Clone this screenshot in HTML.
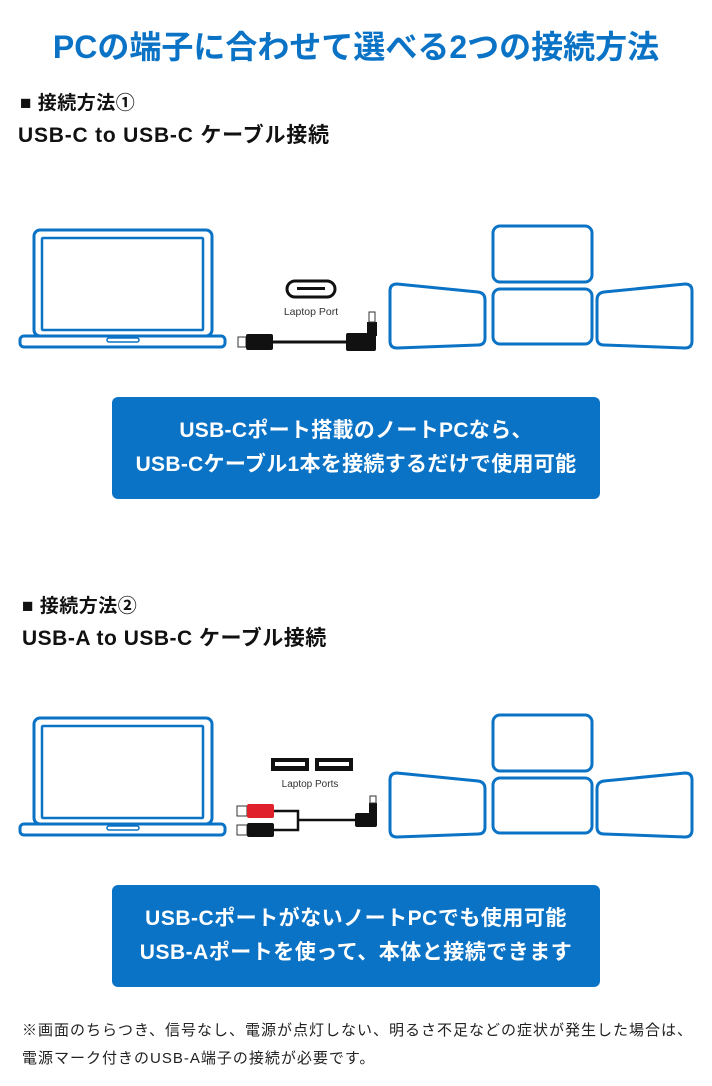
<!DOCTYPE html>
<html><head><meta charset="utf-8"><style>
body{margin:0;width:712px;height:1086px;background:#fff;font-family:"Liberation Sans","Noto Sans CJK JP",sans-serif;overflow:hidden}
svg{position:absolute;left:0;top:0}
.t{position:absolute;white-space:nowrap;font-weight:bold}
</style></head><body>
<svg width="712" height="1086" viewBox="0 0 712 1086">
<defs>
<g id="lap" fill="none" stroke="#0b73c6" stroke-width="3">
<rect x="34" y="0" width="178" height="106" rx="6"/>
<rect x="42" y="8" width="161" height="92" rx="1" stroke-width="2.5"/>
<rect x="20" y="106" width="205" height="11" rx="4"/>
<rect x="107" y="108" width="32" height="4" rx="2" stroke-width="1.5"/>
</g>
<g id="mon" fill="none" stroke="#0b73c6" stroke-width="3">
<rect x="493" y="0" width="99" height="56" rx="7"/>
<rect x="493" y="63" width="99" height="55" rx="7"/>
<path d="M397 58 L478 66 Q485 67 485 74 L485 112 Q485 119 478 119 L397 122 Q390 122 390 115 L390 65 Q390 58 397 58Z"/>
<path d="M685 58 L604 66 Q597 67 597 74 L597 112 Q597 119 604 119 L685 122 Q692 122 692 115 L692 65 Q692 58 685 58Z"/>
</g>
</defs>
<use href="#lap" y="230"/>
<use href="#mon" y="226"/>
<use href="#lap" y="718"/>
<use href="#mon" y="715"/>
<rect x="287" y="281" width="48" height="16" rx="8" fill="#fff" stroke="#111" stroke-width="3"/>
<rect x="297" y="287" width="28" height="3" fill="#111"/>
<text x="311" y="315" font-size="10.5" text-anchor="middle" fill="#333" font-family="Liberation Sans">Laptop Port</text>
<rect x="238" y="337" width="8" height="10" fill="#fff" stroke="#333"/>
<rect x="246" y="334" width="27" height="16" rx="2" fill="#111"/>
<path d="M273 342 H346" stroke="#111" stroke-width="3"/>
<rect x="346" y="333" width="30" height="18" rx="2" fill="#111"/>
<rect x="367" y="322" width="10" height="14" fill="#111"/>
<rect x="369" y="312" width="6" height="10" fill="#fff" stroke="#333"/>
<rect x="271" y="758" width="38" height="13" fill="#111"/><rect x="275" y="762" width="30" height="4" fill="#fff"/>
<rect x="315" y="758" width="38" height="13" fill="#111"/><rect x="319" y="762" width="30" height="4" fill="#fff"/>
<text x="310" y="787" font-size="10" text-anchor="middle" fill="#333" font-family="Liberation Sans">Laptop Ports</text>
<rect x="237" y="806" width="10" height="10" fill="#fff" stroke="#333"/>
<rect x="247" y="804" width="27" height="14" rx="2" fill="#e0202a"/>
<rect x="237" y="825" width="10" height="10" fill="#fff" stroke="#333"/>
<rect x="247" y="823" width="27" height="14" rx="2" fill="#111"/>
<path d="M274 811 H298 V830 H274 M298 820 H360" fill="none" stroke="#111" stroke-width="2.5"/>
<rect x="355" y="813" width="22" height="14" rx="2" fill="#111"/>
<rect x="369" y="803" width="8" height="12" fill="#111"/>
<rect x="370" y="796" width="6" height="7" fill="#fff" stroke="#333"/>
</svg>
<div class="t" style="left:0;width:712px;text-align:center;top:22px;font-size:32px;color:#0b73c6">PCの端子に合わせて選べる2つの接続方法</div>
<div class="t" style="left:20px;top:88px;font-size:19px;color:#111;letter-spacing:0.5px">■ 接続方法①</div>
<div class="t" style="left:18px;top:119px;font-size:21px;color:#111;letter-spacing:0.8px">USB-C to USB-C ケーブル接続</div>
<div style="position:absolute;left:112px;top:397px;width:488px;height:102px;background:#0b73c6;border-radius:6px;color:#fff;font-weight:bold;font-size:21px;letter-spacing:0.3px;text-align:center;line-height:34px;padding-top:17px;box-sizing:border-box;white-space:nowrap">USB-Cポート搭載のノートPCなら、<br>USB-Cケーブル1本を接続するだけで使用可能</div>
<div class="t" style="left:22px;top:591px;font-size:19px;color:#111;letter-spacing:0.5px">■ 接続方法②</div>
<div class="t" style="left:22px;top:622px;font-size:21px;color:#111;letter-spacing:0.5px">USB-A to USB-C ケーブル接続</div>
<div style="position:absolute;left:112px;top:885px;width:488px;height:102px;background:#0b73c6;border-radius:6px;color:#fff;font-weight:bold;font-size:21px;letter-spacing:0.5px;text-align:center;line-height:34px;padding-top:17px;box-sizing:border-box;white-space:nowrap">USB-CポートがないノートPCでも使用可能<br>USB-Aポートを使って、本体と接続できます</div>
<div style="position:absolute;left:22px;top:1017px;font-size:15px;letter-spacing:1px;color:#222;line-height:28px;white-space:nowrap">※画面のちらつき、信号なし、電源が点灯しない、明るさ不足などの症状が発生した場合は、<br>電源マーク付きのUSB-A端子の接続が必要です。</div>
</body></html>
